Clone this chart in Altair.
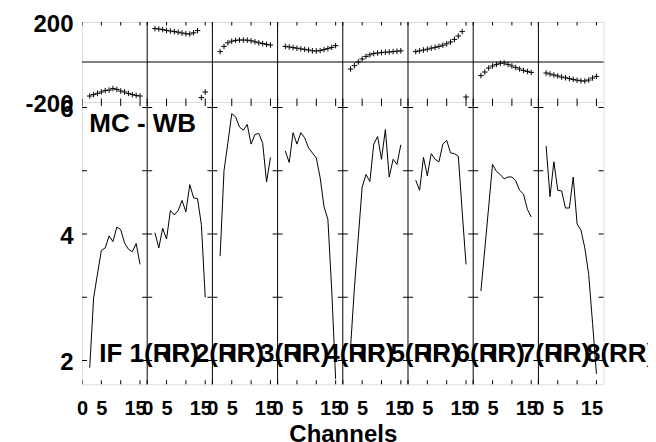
import altair as alt
import pandas as pd

# ---------------- data ----------------
SPAN = 16.85                      # channel units per IF panel
CHANNELS = list(range(2, 16))
IF_LABELS = [f"IF {i}(RR)" for i in range(1, 9)]

PHASE = [
    [-170, -163, -157, -150, -143, -140, -133, -137, -145, -150, -157, -163, -167, -170],
    [167, 165, 162, 158, 155, 152, 149, 145, 141, 140, 146, 157, -178, -150],
    [52, 78, 96, 104, 108, 110, 110, 109, 106, 101, 96, 92, 88, 85],
    [78, 75, 72, 69, 66, 63, 60, 56, 55, 57, 62, 67, 73, 82],
    [-35, -18, 0, 15, 28, 36, 42, 45, 47, 49, 50, 52, 54, 56],
    [52, 56, 60, 64, 69, 73, 78, 84, 91, 100, 113, 130, 152, -175],
    [-68, -50, -30, -20, -12, -6, -5, -12, -20, -28, -35, -42, -47, -52],
    [-55, -60, -65, -70, -75, -79, -83, -87, -91, -94, -95, -90, -80, -72],
]
AMP = [
    [1.89, 2.99, 3.37, 3.74, 3.78, 3.97, 3.88, 4.11, 4.07, 3.86, 3.76, 3.72, 3.85, 3.52],
    [4.02, 3.78, 4.09, 3.92, 4.37, 4.30, 4.37, 4.53, 4.35, 4.78, 4.57, 4.56, 4.15, 3.00],
    [3.65, 5.00, 5.44, 5.90, 5.85, 5.69, 5.64, 5.73, 5.42, 5.57, 5.59, 5.43, 4.82, 5.21],
    [5.31, 5.13, 5.60, 5.42, 5.60, 5.52, 5.36, 5.28, 5.20, 4.89, 4.43, 4.23, 3.10, 1.71],
    [2.20, 3.15, 3.94, 4.74, 4.94, 4.83, 5.42, 5.54, 5.18, 5.65, 4.90, 5.18, 5.10, 5.41],
    [4.85, 4.69, 5.21, 4.92, 5.27, 5.18, 5.14, 5.42, 5.48, 5.28, 5.27, 5.23, 4.36, 3.52],
    [3.10, 3.76, 4.43, 5.10, 4.99, 4.94, 4.87, 4.90, 4.90, 4.84, 4.69, 4.63, 4.39, 4.27],
    [5.39, 4.59, 5.14, 4.69, 4.68, 4.41, 4.41, 4.90, 4.16, 4.06, 3.78, 3.36, 2.59, 1.79],
]
X_TICKS = [0, 5, 10, 15]
AMP_TICKS = [2, 3, 4, 5, 6]
AMP_LABELS = [2, 4, 6]
PHASE_LABELS = [-200, 200]
AMP_DOMAIN = [1.626, 6.085]
PHASE_DOMAIN = [-200, 200]
TITLE_TEXT = "MC - WB"
X_TITLE = "Channels"

# ---------------- tables (common field names x / y) ----------------
ph_rows, am_rows = [], []
for i in range(8):
    for c, p, a in zip(CHANNELS, PHASE[i], AMP[i]):
        ph_rows.append({"ifnum": i + 1, "x": i * SPAN + c, "y": p})
        am_rows.append({"ifnum": i + 1, "x": i * SPAN + c, "y": a})
ph_df = pd.DataFrame(ph_rows)
am_df = pd.DataFrame(am_rows)

inner = pd.DataFrame({"x": [k * SPAN for k in range(1, 8)]})
ytick_df = pd.DataFrame([{"x": k * SPAN, "y": v} for k in range(9) for v in AMP_TICKS])
xtick_vals = [k * SPAN + t for k in range(8) for t in X_TICKS]
xtick_top = pd.DataFrame([{"x": v, "y": y} for v in xtick_vals for y in PHASE_DOMAIN])
xtick_bot = pd.DataFrame([{"x": v, "y": y} for v in xtick_vals for y in AMP_DOMAIN])
lab_df = pd.DataFrame({"x": [k * SPAN + 4.47 for k in range(8)], "label": IF_LABELS})
zero_df = pd.DataFrame({"y": [0]})
title_df = pd.DataFrame({"t": [TITLE_TEXT]})

FONT = "Liberation Sans"
W = 521.6
H_TOP = 80
H_BOT = 282.3
EXT = 67.7

xs = alt.Scale(domain=[0, 8 * SPAN], nice=False, zero=False)
ps = alt.Scale(domain=PHASE_DOMAIN, nice=False, zero=False)
am = alt.Scale(domain=AMP_DOMAIN, nice=False, zero=False)

rem = f"(datum.value - floor(datum.value / {SPAN} + 0.01) * {SPAN})"

ylab_common = dict(ticks=False, tickSize=0, domain=False, grid=False, title=None,
                   labelFont=FONT, labelFontSize=24, labelFontWeight="bold",
                   labelColor="black", labelPadding=9, labelOffset=2,
                   minExtent=EXT, maxExtent=EXT, labelOverlap=False)

ax_phase = alt.Axis(values=PHASE_LABELS, labelExpr="'' + datum.value", **ylab_common)
ax_amp = alt.Axis(values=AMP_LABELS, **ylab_common)
ax_xbot = alt.Axis(values=xtick_vals,
                   labelExpr=f"round({rem}) == 10 ? '' : '' + round({rem})",
                   ticks=False, tickSize=0, domain=False, grid=False,
                   labelOverlap=False, labelFlush=False,
                   labelFont=FONT, labelFontSize=20, labelFontWeight="bold",
                   labelColor="black", labelPadding=14,
                   labelOffset={"condition": {"test": f"round({rem}) == 15", "value": -5},
                                "value": 0},
                   title=X_TITLE, titleFont=FONT, titleFontSize=24,
                   titleFontWeight="bold", titleColor="black", titlePadding=4)

XT = alt.X("x:Q", scale=xs, axis=None)
YT = alt.Y("y:Q", scale=ps, axis=ax_phase)
XB = alt.X("x:Q", scale=xs, axis=ax_xbot)
YB = alt.Y("y:Q", scale=am, axis=ax_amp)

# ---------------- top (phase) ----------------
t_rules = alt.Chart(inner).mark_rule(color="black", strokeWidth=1).encode(x=XT)
t_zero = alt.Chart(zero_df).mark_rule(color="black", strokeWidth=1).encode(y=YT)
t_ticks = alt.Chart(xtick_top).mark_tick(orient="vertical", size=7, thickness=1,
                                         color="black", clip=True, opacity=1).encode(x=XT, y=YT)
t_pts = alt.Chart(ph_df).mark_point(shape="M-1,0L1,0M0,-1L0,1", filled=False, size=30,
                                    stroke="black", strokeWidth=1, opacity=1,
                                    clip=True).encode(x=XT, y=YT)
top = alt.layer(t_rules, t_zero, t_ticks, t_pts).properties(width=W, height=H_TOP)

# ---------------- bottom (amplitude) ----------------
b_rules = alt.Chart(inner).mark_rule(color="black", strokeWidth=1).encode(x=XB)
b_yt = alt.Chart(ytick_df).mark_tick(orient="horizontal", size=10, thickness=1,
                                     color="black", clip=True, opacity=1).encode(x=XB, y=YB)
b_xt = alt.Chart(xtick_bot).mark_tick(orient="vertical", size=8, thickness=1,
                                      color="black", clip=True, opacity=1).encode(x=XB, y=YB)
b_line = alt.Chart(am_df).mark_line(color="black", strokeWidth=1, clip=True).encode(
    x=XB, y=YB, detail="ifnum:N")
b_lab = alt.Chart(lab_df).mark_text(align="left", baseline="alphabetic", font=FONT,
                                    fontSize=26, fontWeight="bold", color="black").encode(
    x=XB, y=alt.value(260), text="label:N")
b_title = alt.Chart(title_df).mark_text(align="left", baseline="alphabetic", font=FONT,
                                        fontSize=26, fontWeight="bold", color="black").encode(
    x=alt.value(7.3), y=alt.value(30), text="t:N")
bottom = alt.layer(b_rules, b_yt, b_xt, b_line, b_lab, b_title).properties(width=W, height=H_BOT)

chart = alt.vconcat(top, bottom, spacing=0, bounds="flush").properties(
    padding={"left": 5, "top": 3, "right": -9, "bottom": 0}
).configure_view(stroke="black", strokeWidth=1).configure(background="white")

chart.save("out.html", embed_options={"renderer": "svg", "actions": False})
